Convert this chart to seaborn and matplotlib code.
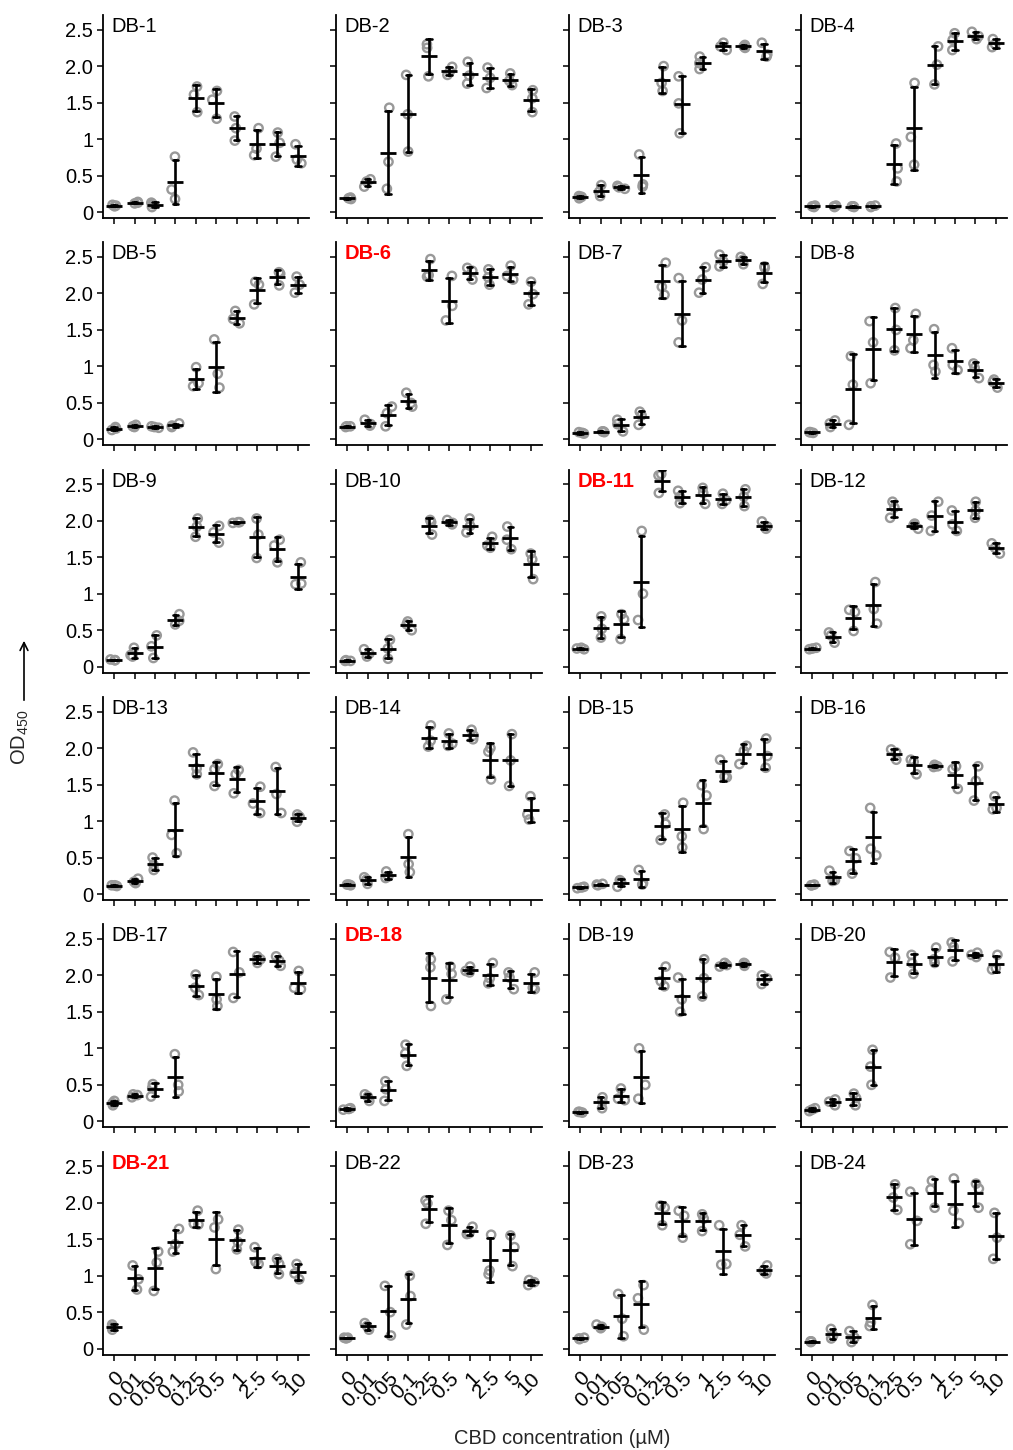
import numpy as np
import pandas as pd
import matplotlib
matplotlib.use("Agg")
import matplotlib.pyplot as plt
import seaborn as sns

# ---------------- data ----------------
conc_labels = ['0', '0.01', '0.05', '0.1', '0.25', '0.5', '1', '2.5', '5', '10']
ytick_vals = [0, 0.5, 1, 1.5, 2.0, 2.5]
ytick_labels = ['0', '0.5', '1', '1.5', '2.0', '2.5']
panel_names = ['DB-%d' % i for i in range(1, 25)]
highlight = ['DB-6', 'DB-11', 'DB-18', 'DB-21']

DB_1 = [(0.08,0.09,0.10),(0.12,0.13,0.14),(0.07,0.11,0.13),(0.76,0.31,0.18),(1.72,1.61,1.37),(1.66,1.54,1.28),(1.31,1.15,0.98),(1.15,0.87,0.78),(1.09,0.95,0.76),(0.93,0.72,0.67)]
DB_2 = [(0.18,0.19,0.20),(0.45,0.42,0.35),(1.43,0.69,0.32),(1.88,1.34,0.83),(2.30,2.25,1.86),(1.99,1.93,1.88),(2.06,1.87,1.76),(1.98,1.84,1.70),(1.90,1.80,1.74),(1.67,1.56,1.37)]
DB_3 = [(0.19,0.21,0.22),(0.37,0.28,0.22),(0.36,0.34,0.32),(0.79,0.38,0.35),(2.00,1.77,1.66),(1.86,1.49,1.08),(2.13,2.04,1.96),(2.32,2.27,2.22),(2.29,2.27,2.25),(2.32,2.16,2.13)]
DB_4 = [(0.07,0.08,0.09),(0.07,0.08,0.09),(0.07,0.08,0.08),(0.07,0.08,0.09),(0.94,0.60,0.42),(1.77,1.03,0.65),(2.27,2.02,1.75),(2.45,2.36,2.22),(2.47,2.41,2.37),(2.37,2.30,2.26)]
DB_5 = [(0.13,0.15,0.17),(0.17,0.18,0.20),(0.16,0.17,0.18),(0.17,0.19,0.22),(0.99,0.77,0.73),(1.37,0.90,0.71),(1.76,1.65,1.59),(2.16,2.12,1.85),(2.29,2.27,2.11),(2.23,2.12,2.01)]
DB_6 = [(0.17,0.18,0.18),(0.27,0.21,0.19),(0.45,0.36,0.18),(0.64,0.50,0.45),(2.47,2.25,2.23),(2.24,1.83,1.63),(2.35,2.31,2.19),(2.33,2.22,2.12),(2.38,2.24,2.19),(2.16,1.99,1.85)]
DB_7 = [(0.08,0.09,0.10),(0.10,0.11,0.11),(0.27,0.21,0.11),(0.38,0.33,0.20),(2.42,2.09,1.98),(2.21,1.63,1.33),(2.36,2.19,2.01),(2.53,2.44,2.37),(2.50,2.46,2.40),(2.37,2.35,2.13)]
DB_8 = [(0.09,0.10,0.10),(0.26,0.22,0.17),(1.14,0.75,0.20),(1.62,1.33,0.77),(1.80,1.50,1.22),(1.72,1.36,1.25),(1.51,1.02,0.93),(1.25,1.02,0.95),(1.04,0.98,0.84),(0.82,0.79,0.71)]
DB_9 = [(0.09,0.09,0.10),(0.26,0.16,0.14),(0.43,0.28,0.12),(0.72,0.63,0.58),(2.03,1.92,1.78),(1.93,1.84,1.70),(1.97,1.98,1.98),(2.03,1.81,1.49),(1.74,1.66,1.43),(1.43,1.14,1.13)]
DB_10 = [(0.08,0.08,0.09),(0.24,0.18,0.14),(0.37,0.25,0.11),(0.62,0.58,0.50),(2.01,1.98,1.81),(2.01,1.97,1.95),(2.03,1.93,1.84),(1.78,1.66,1.63),(1.92,1.74,1.61),(1.55,1.47,1.20)]
DB_11 = [(0.24,0.25,0.26),(0.69,0.52,0.40),(0.72,0.65,0.38),(1.86,1.00,0.64),(2.64,2.62,2.38),(2.41,2.33,2.24),(2.45,2.38,2.23),(2.37,2.28,2.23),(2.43,2.33,2.20),(1.99,1.92,1.89)]
DB_12 = [(0.24,0.25,0.26),(0.47,0.43,0.33),(0.78,0.75,0.49),(1.16,0.79,0.59),(2.26,2.18,2.04),(1.96,1.94,1.89),(2.26,2.07,1.86),(2.14,1.95,1.86),(2.26,2.14,2.04),(1.69,1.63,1.55)]
DB_13 = [(0.11,0.12,0.12),(0.21,0.17,0.15),(0.50,0.40,0.33),(1.28,0.81,0.56),(1.94,1.72,1.64),(1.78,1.71,1.48),(1.70,1.64,1.38),(1.47,1.24,1.11),(1.74,1.37,1.11),(1.09,1.06,0.99)]
DB_14 = [(0.12,0.13,0.13),(0.23,0.20,0.14),(0.31,0.24,0.22),(0.82,0.41,0.30),(2.31,2.10,2.02),(2.20,2.06,2.03),(2.25,2.17,2.12),(2.00,1.95,1.57),(2.19,1.83,1.48),(1.34,1.09,1.02)]
DB_15 = [(0.08,0.09,0.10),(0.12,0.13,0.14),(0.19,0.17,0.10),(0.33,0.15,0.13),(1.09,0.96,0.74),(1.25,0.79,0.64),(1.49,1.35,0.89),(1.84,1.61,1.60),(2.03,1.96,1.78),(2.13,1.89,1.73)]
DB_16 = [(0.12,0.12,0.13),(0.32,0.19,0.18),(0.59,0.49,0.28),(1.18,0.62,0.53),(1.98,1.94,1.84),(1.84,1.81,1.64),(1.77,1.75,1.74),(1.75,1.71,1.44),(1.75,1.55,1.28),(1.34,1.18,1.16)]
DB_17 = [(0.28,0.25,0.22),(0.37,0.36,0.33),(0.51,0.46,0.34),(0.92,0.50,0.41),(2.01,1.83,1.73),(1.98,1.67,1.58),(2.32,2.04,1.69),(2.26,2.22,2.17),(2.26,2.20,2.13),(2.06,1.83,1.81)]
DB_18 = [(0.16,0.17,0.18),(0.37,0.34,0.28),(0.55,0.44,0.28),(1.05,0.93,0.76),(2.22,2.11,1.58),(2.12,2.02,1.67),(2.12,2.06,2.04),(2.17,1.96,1.89),(2.04,1.97,1.81),(2.04,1.83,1.81)]
DB_19 = [(0.12,0.13,0.13),(0.33,0.27,0.18),(0.45,0.31,0.29),(1.00,0.50,0.31),(2.12,1.92,1.85),(1.97,1.67,1.50),(2.22,1.96,1.71),(2.17,2.14,2.12),(2.17,2.16,2.13),(2.00,1.96,1.88)]
DB_20 = [(0.18,0.16,0.14),(0.30,0.27,0.22),(0.38,0.32,0.22),(0.98,0.75,0.50),(2.32,2.24,1.97),(2.28,2.17,2.02),(2.38,2.22,2.17),(2.45,2.39,2.19),(2.31,2.28,2.25),(2.28,2.10,2.08)]
DB_21 = [(0.33,0.30,0.26),(1.14,0.95,0.81),(1.33,1.18,0.79),(1.64,1.43,1.33),(1.89,1.71,1.70),(1.77,1.66,1.09),(1.63,1.46,1.36),(1.39,1.19,1.16),(1.23,1.16,1.02),(1.16,1.03,0.95)]
DB_22 = [(0.14,0.15,0.15),(0.35,0.31,0.26),(0.86,0.50,0.18),(1.00,0.72,0.33),(2.03,1.99,1.71),(1.89,1.76,1.42),(1.67,1.58,1.57),(1.56,1.07,1.02),(1.55,1.39,1.13),(0.94,0.91,0.87)]
DB_23 = [(0.13,0.14,0.15),(0.33,0.30,0.28),(0.75,0.41,0.17),(0.87,0.69,0.26),(1.96,1.93,1.69),(1.89,1.82,1.52),(1.84,1.78,1.61),(1.69,1.16,1.15),(1.69,1.56,1.40),(1.14,1.07,1.03)]
DB_24 = [(0.09,0.10,0.10),(0.27,0.18,0.14),(0.24,0.15,0.09),(0.60,0.36,0.31),(2.25,2.07,1.90),(2.15,1.75,1.43),(2.30,2.18,1.93),(2.33,1.89,1.72),(2.26,2.19,1.93),(1.86,1.52,1.23)]

panels = [DB_1, DB_2, DB_3, DB_4, DB_5, DB_6, DB_7, DB_8, DB_9, DB_10, DB_11, DB_12,
          DB_13, DB_14, DB_15, DB_16, DB_17, DB_18, DB_19, DB_20, DB_21, DB_22, DB_23, DB_24]

# ---------------- style ----------------
sns.set_theme(style="ticks")
plt.rcParams['font.family'] = ['Liberation Sans', 'DejaVu Sans']
plt.rcParams['mathtext.default'] = 'regular'
plt.rcParams['axes.linewidth'] = 1.2
np.random.seed(3)

W, H = 1013, 1450
fig = plt.figure(figsize=(W / 100, H / 100), dpi=100)
fig.patch.set_facecolor('white')

lefts = [103, 336, 569, 801]
ax_w = 206
row_step = 227.3
FS = 14.5

for i, (name, reps) in enumerate(zip(panel_names, panels)):
    r, c = divmod(i, 4)
    top = 15 + row_step * r
    bottom = 218 + row_step * r
    ax = fig.add_axes([lefts[c] / W, 1 - bottom / H, ax_w / W, (bottom - top) / H])
    df = pd.DataFrame({'conc': np.repeat(conc_labels, 3),
                       'od': np.ravel(np.array(reps, dtype=float))})
    sns.stripplot(data=df, x='conc', y='od', order=conc_labels, jitter=0.2,
                  size=6, facecolor='none', edgecolor='#999999', linewidth=1.7,
                  color='#999999', ax=ax, zorder=3)
    sns.pointplot(data=df, x='conc', y='od', order=conc_labels, errorbar='sd',
                  linestyle='none', marker='_', markersize=11, markeredgewidth=2.0,
                  color='black', capsize=0.28,
                  err_kws={'linewidth': 1.9, 'zorder': 6}, ax=ax, zorder=6)
    ax.set_xlim(-0.55, 9.55)
    ax.set_ylim(-0.08, 2.7)
    ax.set_xlabel('')
    ax.set_ylabel('')
    sns.despine(ax=ax)
    for sp in ['left', 'bottom']:
        ax.spines[sp].set_linewidth(1.3)
        ax.spines[sp].set_color('black')
    ax.set_yticks(ytick_vals)
    if c == 0:
        ax.set_yticklabels(ytick_labels)
    else:
        ax.set_yticklabels([])
    ax.set_xticks(range(len(conc_labels)))
    if r == 5:
        ax.set_xticklabels(conc_labels, rotation=45, ha='right', va='top',
                           rotation_mode='anchor')
    else:
        ax.set_xticklabels([])
    ax.tick_params(axis='both', direction='out', length=4, width=1.1,
                   color='black', labelsize=FS, labelcolor='black', pad=3)
    ax.tick_params(axis='x', pad=6, labelsize=15)
    red = name in highlight
    ax.text(0.04, 0.99, name, transform=ax.transAxes, ha='left', va='top',
            fontsize=FS, color='red' if red else 'black',
            fontweight='bold' if red else 'normal')

fig.text(562 / W, 1 - 1439 / H, 'CBD concentration (\u00b5M)', ha='center',
         va='center', fontsize=14.5)
fig.text(20 / W, 1 - 737 / H, 'OD$_{450}$', rotation=90, ha='center',
         va='center', fontsize=14.5)
ax_ann = fig.add_axes([0, 0, 1, 1], facecolor='none')
ax_ann.set_axis_off()
ax_ann.annotate('', xy=(24 / W, 1 - 638 / H), xytext=(24 / W, 1 - 703 / H),
                xycoords='figure fraction', textcoords='figure fraction',
                arrowprops=dict(arrowstyle='->', color='black', lw=1.2,
                                mutation_scale=14))

fig.savefig('out.png', dpi=100, facecolor='white')
